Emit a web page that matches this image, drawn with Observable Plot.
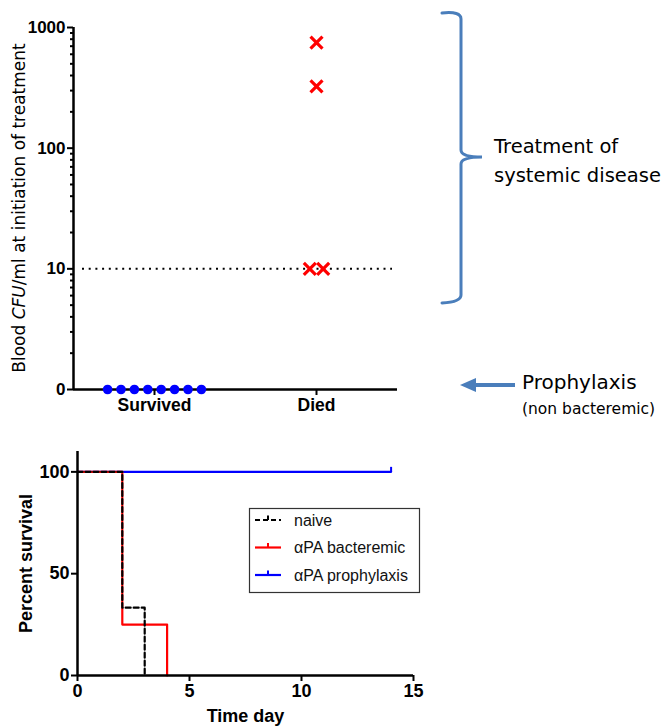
<!DOCTYPE html>
<html>
<head>
<meta charset="utf-8">
<script src="https://cdn.jsdelivr.net/npm/d3@7"></script>
<script src="https://cdn.jsdelivr.net/npm/@observablehq/plot@0.6"></script>
<style>
  body { margin: 0; background: #fff; }
  #wrap { position: relative; width: 666px; height: 727px; overflow: hidden; }
  #top, #bottom, #ann { position: absolute; left: 0; }
  #top { top: 0; }
  #bottom { top: 420px; }
  #ann { top: 0; pointer-events: none; }
</style>
</head>
<body>
<div id="wrap">
  <div id="top"></div>
  <div id="bottom"></div>
  <svg id="ann" width="666" height="727"></svg>
</div>
<script>
// ---------- Top chart data ----------
const groups = ["Survived", "Died"];
const survivedCFU = [0, 0, 0, 0, 0, 0, 0, 0];
const diedCFU = [750, 325, 10, 10];
const detectionLimit = 10;
const yMajorTicks = [1, 10, 100, 1000];          // 1 is shown as "0"
const yMajorLabels = ["0", "10", "100", "1000"];
const yTitleParts = ["Blood ", "CFU", "/ml at initiation of treatment"];

// ---------- Bottom chart data ----------
const seriesNames = ["naive", "\u03b1PA bacteremic", "\u03b1PA prophylaxis"];
const naiveDays = [0, 2, 3];
const naiveSurvival = [100, 33.3, 0];
const bactDays = [0, 2, 4];
const bactSurvival = [100, 25, 0];
const prophDays = [0, 14];
const prophSurvival = [100, 100];
const prophCensorDays = [14];
const survXTicks = [0, 5, 10, 15];
const survYTicks = [0, 50, 100];

// ---------- Annotation text ----------
const bracketText = ["Treatment of", "systemic disease"];
const arrowText = ["Prophylaxis", "(non bacteremic)"];

const fontMain = "'Liberation Sans', Arial, Helvetica, sans-serif";
const fontHand = "'DejaVu Sans', sans-serif";

// column-scatter layout: identical values are spread symmetrically around the group
const xDomain = [-0.5, 1.5];
const spread = 0.0827;
function columnScatter(group, values) {
  const counts = d3.rollup(values, v => v.length, v => v);
  const seen = new Map();
  return values.map(v => {
    const n = counts.get(v);
    const k = seen.get(v) ?? 0;
    seen.set(v, k + 1);
    return {group, cfu: v, pos: groups.indexOf(group) + (k - (n - 1) / 2) * spread, val: Math.max(v, 1)};
  });
}
const survivedPts = columnScatter("Survived", survivedCFU);
const diedPts = columnScatter("Died", diedCFU);

const minorTicks = [];
for (let e = 0; e < 3; e++) for (let m = 2; m <= 9; m++) minorTicks.push(m * 10 ** e);

const topPlot = Plot.plot({
  width: 666, height: 420,
  marginLeft: 73, marginRight: 269, marginTop: 27, marginBottom: 31,
  style: {fontFamily: fontMain, background: "transparent", color: "black"},
  x: {domain: xDomain, label: null},
  y: {type: "log", domain: [1, 1000], label: null},
  marks: [
    Plot.ruleY([detectionLimit], {stroke: "black", strokeWidth: 2, strokeDasharray: "2,4.7", insetLeft: 9, insetRight: 5}),
    Plot.axisY(minorTicks, {tickSize: 3, text: null, strokeWidth: 2, label: null}),
    Plot.axisY(yMajorTicks, {tickSize: 6, tickPadding: 2, strokeWidth: 2, fontSize: 17, fontWeight: "bold",
      tickFormat: d => yMajorLabels[yMajorTicks.indexOf(d)], label: null}),
    Plot.axisX([0, 1], {tickSize: 6, tickPadding: 3, strokeWidth: 2, fontSize: 17.5, fontWeight: "bold",
      tickFormat: i => groups[i], label: null}),
    Plot.ruleX([xDomain[0]], {stroke: "black", strokeWidth: 2.5}),
    Plot.ruleY([1], {stroke: "black", strokeWidth: 2.5}),
    Plot.dot(survivedPts, {x: "pos", y: "val", r: 4.8, fill: "#0000ff"}),
    Plot.dot(diedPts, {x: "pos", y: "val", symbol: "times", r: 5.5, stroke: "#ff0000", strokeWidth: 3.2})
  ]
});
document.getElementById("top").append(topPlot);

// ---------- Bottom chart ----------
const toRows = (days, surv) => days.map((d, i) => ({day: d, surv: surv[i]}));
const naive = toRows(naiveDays, naiveSurvival);
const bact = toRows(bactDays, bactSurvival);
const proph = toRows(prophDays, prophSurvival);
const censor = prophCensorDays.map(d => ({day: d, surv: prophSurvival[prophSurvival.length - 1]}));
const censorSymbol = {draw(ctx) { ctx.moveTo(0, 0); ctx.lineTo(0, -5); }};

const bottomPlot = Plot.plot({
  width: 666, height: 307,
  marginLeft: 77, marginRight: 253, marginTop: 31, marginBottom: 52,
  style: {fontFamily: fontMain, background: "transparent", color: "black"},
  x: {domain: [0, 15], label: null},
  y: {domain: [0, 110], label: null},
  marks: [
    Plot.line(proph, {x: "day", y: "surv", curve: "step-after", stroke: "#0000ff", strokeWidth: 2.2}),
    Plot.dot(censor, {x: "day", y: "surv", symbol: censorSymbol, stroke: "#0000ff", strokeWidth: 2, fill: "none"}),
    Plot.line(bact, {x: "day", y: "surv", curve: "step-after", stroke: "#ff0000", strokeWidth: 2.2}),
    Plot.line(naive, {x: "day", y: "surv", curve: "step-after", stroke: "black", strokeWidth: 2.2, strokeDasharray: "5,3"}),
    Plot.axisY(survYTicks, {tickSize: 6, tickPadding: 2, strokeWidth: 2, fontSize: 18, fontWeight: "bold",
      label: "Percent survival", labelAnchor: "center", labelArrow: "none", labelOffset: 58}),
    Plot.axisX(survXTicks, {tickSize: 6, tickPadding: 3, strokeWidth: 2, fontSize: 18, fontWeight: "bold",
      label: "Time day", labelAnchor: "center", labelArrow: "none", labelOffset: 46}),
    Plot.ruleX([0], {stroke: "black", strokeWidth: 2.5}),
    Plot.ruleY([0], {stroke: "black", strokeWidth: 2.5})
  ]
});
document.getElementById("bottom").append(bottomPlot);

// ---------- Annotations (overlay) ----------
const ann = d3.select("#ann");
const annBlue = "#4a7ebb";

// top chart y title with italic CFU
const yTitle = ann.append("text")
  .attr("transform", "translate(25,208) rotate(-90)")
  .attr("text-anchor", "middle")
  .attr("font-family", fontHand)
  .attr("font-size", 17)
  .attr("fill", "black");
yTitleParts.forEach((t, i) => yTitle.append("tspan").attr("font-style", i === 1 ? "italic" : "normal").text(t));

// curly bracket
ann.append("path")
  .attr("d", "M442,13 Q461,11 461,19 L461,150 Q461,157 482,157 Q461,157 461,164 L461,295 Q461,302 442,303")
  .attr("fill", "none").attr("stroke", annBlue).attr("stroke-width", 3).attr("stroke-linecap", "round");
ann.selectAll("text.br").data(bracketText).join("text")
  .attr("class", "br")
  .attr("x", 494).attr("y", (d, i) => 153 + i * 29)
  .attr("font-family", fontHand).attr("font-size", 19.5).attr("fill", "black")
  .text(d => d);

// arrow
ann.append("line").attr("x1", 515).attr("x2", 472).attr("y1", 385).attr("y2", 385)
  .attr("stroke", annBlue).attr("stroke-width", 4);
ann.append("path").attr("d", "M460,385 L476,378 L476,392 Z").attr("fill", annBlue);
ann.append("text").attr("x", 522).attr("y", 389)
  .attr("font-family", fontHand).attr("font-size", 20).attr("fill", "black").text(arrowText[0]);
ann.append("text").attr("x", 522).attr("y", 414)
  .attr("font-family", fontHand).attr("font-size", 15.5).attr("fill", "black").text(arrowText[1]);

// legend for bottom chart
const legendColors = ["black", "#ff0000", "#0000ff"];
const legendDash = ["5,3", null, null];
ann.append("rect").attr("x", 249.5).attr("y", 508.5).attr("width", 170).attr("height", 84)
  .attr("fill", "white").attr("stroke", "#333").attr("stroke-width", 1.2);
seriesNames.forEach((name, i) => {
  const cy = 520 + i * 27.5;
  ann.append("line").attr("x1", 255).attr("x2", 281).attr("y1", cy).attr("y2", cy)
    .attr("stroke", legendColors[i]).attr("stroke-width", 2.2).attr("stroke-dasharray", legendDash[i]);
  ann.append("line").attr("x1", 268).attr("x2", 268).attr("y1", cy).attr("y2", cy - 4.5)
    .attr("stroke", legendColors[i]).attr("stroke-width", 2);
  ann.append("text").attr("x", 294).attr("y", cy).attr("dy", "0.35em")
    .attr("font-family", fontMain).attr("font-size", 16).attr("fill", "#111").text(name);
});
</script>
</body>
</html>
